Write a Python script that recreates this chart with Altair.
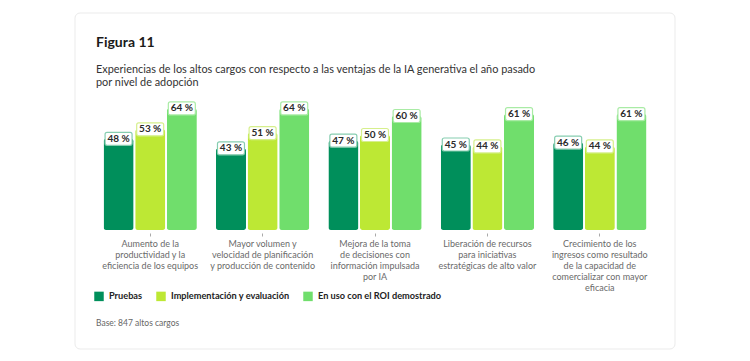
import altair as alt
import pandas as pd

categories = [
    "Aumento de la|productividad y la|eficiencia de los equipos",
    "Mayor volumen y|velocidad de planificación|y producción de contenido",
    "Mejora de la toma|de decisiones con|información impulsada|por IA",
    "Liberación de recursos|para iniciativas|estratégicas de alto valor",
    "Crecimiento de los|ingresos como resultado|de la capacidad de|comercializar con mayor|eficacia",
]
series = ["Pruebas", "Implementación y evaluación", "En uso con el ROI demostrado"]
pruebas = [48, 43, 47, 45, 46]
implementacion = [53, 51, 50, 44, 44]
roi = [64, 64, 60, 61, 61]

bar_colors = ["#008F5B", "#BDE834", "#70DE6C"]
box_strokes = ["#86CDB0", "#D6EF8C", "#A9EBA5"]

title_text = "Figura 11"
subtitle_lines = [
    "Experiencias de los altos cargos con respecto a las ventajas de la IA generativa el año pasado",
    "por nivel de adopción",
]
note_text = "Base: 847 altos cargos"

rows = []
for s, vals in zip(series, [pruebas, implementacion, roi]):
    for c, v in zip(categories, vals):
        rows.append({"cat": c, "serie": s, "value": v})
df = pd.DataFrame(rows)

FONT = "Lato"

x_enc = alt.X(
    "cat:N",
    sort=categories,
    scale=alt.Scale(paddingInner=0.17, paddingOuter=0.085),
    axis=alt.Axis(
        title=None,
        labelAngle=0,
        domain=False,
        ticks=True,
        tickSize=3,
        tickColor="#aaaaaa",
        offset=3,
        zindex=1,
        labelExpr="split(datum.label, '|')",
        labelFont=FONT,
        labelFontSize=9,
        labelColor="#6a6a6a",
        labelLineHeight=11,
        labelPadding=3,
        labelBaseline="top",
        labelLimit=300,
    ),
)
xo_enc = alt.XOffset("serie:N", sort=series, scale=alt.Scale(paddingInner=0.05))
y_scale = alt.Scale(domain=[0, 70])

one = pd.DataFrame({"k": [0]})

card = alt.Chart(one).mark_rect(
    fill="white", stroke="#ebebeb", strokeWidth=1, cornerRadius=5
).encode(
    x=alt.value(-19), x2=alt.value(581), y=alt.value(-84), y2=alt.value(252)
)

title_mark = alt.Chart(one).mark_text(
    font=FONT, fontSize=14, fontWeight="bold", color="#1a1a1a", align="left", baseline="middle"
).encode(x=alt.value(2), y=alt.value(-54), text=alt.value(title_text))

subtitle_mark = alt.Chart(one).mark_text(
    font=FONT, fontSize=10.9, color="#333333", align="left", baseline="middle", lineHeight=13
).encode(x=alt.value(2), y=alt.value(-27), text=alt.value(subtitle_lines))

base = alt.Chart(df)

bars = base.mark_bar(cornerRadius=2.5).encode(
    x=x_enc,
    xOffset=xo_enc,
    y=alt.Y("value:Q", scale=y_scale, axis=None),
    color=alt.Color(
        "serie:N",
        sort=series,
        scale=alt.Scale(domain=series, range=bar_colors),
        legend=alt.Legend(
            title=None,
            orient="none",
            legendX=0,
            legendY=194,
            direction="horizontal",
            symbolType="square",
            symbolSize=90,
            symbolStrokeWidth=0,
            symbolOpacity=1,
            labelFont=FONT,
            labelFontSize=9.2,
            labelFontWeight="bold",
            labelColor="#222222",
            labelOffset=5,
            columnPadding=13,
            padding=0,
            zindex=2,
        ),
    ),
)

boxes = base.mark_bar(
    width=27, yOffset=-6.5, y2Offset=6.5, fill="white", strokeWidth=1.2, cornerRadius=2
).encode(
    x=x_enc,
    xOffset=xo_enc,
    y=alt.Y("value:Q", scale=y_scale, axis=None),
    y2="value:Q",
    stroke=alt.Stroke("serie:N", sort=series, scale=alt.Scale(domain=series, range=box_strokes), legend=None),
)

labels = base.mark_text(
    font=FONT, fontWeight="bold", fontSize=10, color="#2a2a2a", baseline="middle"
).transform_calculate(lbl="datum.value + ' %'").encode(
    x=x_enc,
    xOffset=xo_enc,
    y=alt.Y("value:Q", scale=y_scale, axis=None),
    text="lbl:N",
)

note = alt.Chart(one).mark_text(
    font=FONT, fontSize=8.5, color="#666666", align="left", baseline="middle"
).encode(x=alt.value(2), y=alt.value(226), text=alt.value(note_text))

chart = alt.layer(card, title_mark, subtitle_mark, bars, boxes, labels, note).properties(
    width=562,
    height=133,
    autosize=alt.AutoSizeParams(type="none"),
    padding={"left": 86, "top": 89, "right": 86, "bottom": 123},
).configure_view(stroke=None).configure(background="white")

chart.save("out.html", embed_options={"renderer": "svg", "actions": False})
